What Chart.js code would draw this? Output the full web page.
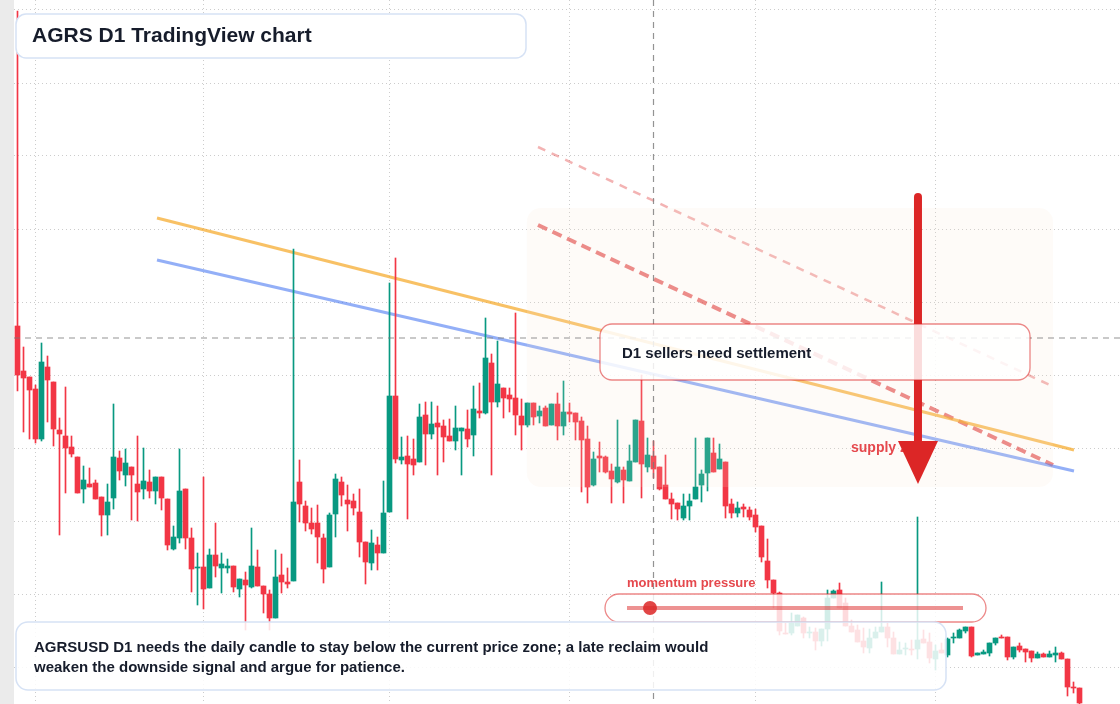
<!DOCTYPE html>
<html>
<head>
<meta charset="utf-8">
<title>AGRS D1 TradingView chart</title>
<script src="https://cdn.jsdelivr.net/npm/chart.js@4.4.1/dist/chart.umd.min.js"></script>
<style>
  html, body { margin: 0; padding: 0; background: #fff; }
  canvas { display: block; }
</style>
</head>
<body>
<canvas id="agrsChart" width="1120" height="704"></canvas>
<script>
// daily candles, day 0 = Jan 29
const open = [
  3.78, 3.33, 3.27, 3.15, 2.65, 3.37, 3.22, 2.74, 2.68, 2.57,
  2.47, 2.15, 2.20, 2.21, 2.07, 1.89, 2.06, 2.46, 2.29, 2.37,
  2.20, 2.15, 2.22, 2.13, 2.27, 2.05, 1.55, 1.66, 2.15, 1.66,
  1.36, 1.37, 1.16, 1.49, 1.36, 1.36, 1.38, 1.15, 1.24, 1.17,
  1.37, 1.18, 1.10, 0.86, 1.29, 1.22, 1.23, 2.22, 1.98, 1.81,
  1.81, 1.66, 1.37, 1.90, 2.22, 2.04, 2.03, 1.92, 1.62, 1.41,
  1.59, 1.51, 1.92, 3.08, 2.44, 2.48, 2.45, 2.42, 2.89, 2.70,
  2.81, 2.78, 2.68, 2.63, 2.73, 2.75, 2.69, 2.93, 2.91, 3.41,
  3.02, 3.16, 3.09, 3.06, 2.88, 2.79, 3.01, 2.88, 2.96, 2.79,
  3.00, 2.78, 2.92, 2.91, 2.83, 2.65, 2.19, 2.48, 2.47, 2.33,
  2.22, 2.34, 2.23, 2.42, 2.83, 2.37, 2.48, 2.37, 2.19, 2.05,
  2.01, 1.86, 1.98, 2.05, 2.19, 2.31, 2.51, 2.35, 2.42, 2.00,
  1.91, 1.97, 1.94, 1.89, 1.78, 1.43, 1.24, 1.11, 0.71, 0.71,
  0.78, 0.86, 0.71, 0.72, 0.63, 0.75, 1.06, 1.14, 1.01, 0.78,
  0.74, 0.63, 0.56, 0.66, 0.72, 0.77, 0.66, 0.50, 0.55, 0.55,
  0.55, 0.65, 0.62, 0.45, 0.54, 0.49, 0.66, 0.66, 0.73, 0.77,
  0.49, 0.50, 0.51, 0.61, 0.67, 0.67, 0.47, 0.58, 0.55, 0.53,
  0.46, 0.50, 0.47, 0.49, 0.51, 0.45, 0.17, 0.16
];
const high = [
  6.93, 3.57, 3.27, 3.19, 3.61, 3.48, 3.22, 2.86, 3.17, 2.68,
  2.47, 2.38, 2.36, 2.24, 2.07, 2.20, 3.00, 2.53, 2.55, 2.37,
  2.68, 2.56, 2.34, 2.27, 2.27, 2.05, 1.78, 2.55, 2.15, 1.76,
  1.51, 2.27, 1.55, 1.81, 1.51, 1.45, 1.38, 1.25, 1.32, 1.76,
  1.54, 1.18, 1.14, 1.54, 1.50, 1.36, 4.55, 2.44, 2.03, 1.96,
  1.99, 1.70, 1.91, 2.30, 2.27, 2.19, 2.10, 2.15, 1.62, 1.74,
  1.67, 2.23, 4.21, 4.46, 2.67, 2.68, 2.65, 3.00, 3.02, 3.02,
  2.98, 2.84, 2.85, 2.98, 2.76, 2.94, 3.18, 3.21, 3.86, 3.50,
  3.63, 3.16, 3.16, 3.91, 3.05, 3.01, 3.01, 2.98, 2.98, 3.00,
  3.11, 3.23, 3.01, 2.91, 2.87, 2.78, 2.52, 2.62, 2.48, 2.40,
  2.84, 2.37, 2.59, 2.84, 3.29, 2.66, 2.63, 2.37, 2.49, 2.11,
  2.01, 2.10, 2.10, 2.66, 2.34, 2.66, 2.66, 2.60, 2.42, 2.05,
  2.02, 2.00, 1.97, 1.95, 1.78, 1.65, 1.24, 1.12, 0.81, 0.91,
  0.89, 0.87, 0.77, 0.76, 0.75, 1.14, 1.14, 1.21, 1.06, 0.84,
  0.79, 0.76, 0.75, 0.77, 1.22, 0.81, 0.72, 0.62, 0.61, 0.64,
  1.87, 0.74, 0.71, 0.59, 0.61, 0.66, 0.71, 0.75, 0.77, 0.77,
  0.51, 0.54, 0.61, 0.66, 0.69, 0.67, 0.57, 0.61, 0.55, 0.53,
  0.52, 0.51, 0.53, 0.57, 0.52, 0.45, 0.22, 0.16
];
const low = [
  3.13, 2.72, 2.65, 2.61, 2.63, 2.82, 2.58, 1.69, 2.11, 2.47,
  2.11, 2.01, 2.17, 2.05, 1.68, 1.69, 1.95, 2.24, 2.18, 1.84,
  1.83, 2.05, 2.06, 2.00, 1.94, 1.54, 1.54, 1.61, 1.55, 1.12,
  0.99, 0.95, 1.16, 1.27, 1.11, 1.31, 1.12, 1.07, 0.74, 1.16,
  1.18, 0.91, 0.74, 0.86, 1.11, 1.16, 1.23, 1.82, 1.73, 1.70,
  1.41, 1.21, 1.37, 1.67, 1.98, 1.73, 1.89, 1.47, 1.20, 1.34,
  1.34, 1.51, 1.92, 2.41, 2.40, 1.85, 2.29, 2.42, 2.39, 2.65,
  2.29, 2.42, 2.63, 2.54, 2.29, 2.57, 2.48, 2.86, 2.90, 2.29,
  2.97, 2.86, 2.92, 2.69, 2.54, 2.77, 2.79, 2.81, 2.78, 2.79,
  2.64, 2.69, 2.82, 2.64, 2.12, 2.01, 2.18, 2.32, 2.31, 2.01,
  2.21, 2.01, 2.23, 2.42, 2.06, 2.32, 2.26, 2.14, 2.05, 1.85,
  1.84, 1.84, 1.84, 2.05, 2.02, 2.13, 2.32, 2.35, 1.86, 1.86,
  1.87, 1.87, 1.84, 1.72, 1.42, 1.16, 0.96, 0.69, 0.70, 0.69,
  0.78, 0.66, 0.66, 0.54, 0.58, 0.63, 1.06, 0.96, 0.78, 0.72,
  0.62, 0.51, 0.51, 0.66, 0.72, 0.57, 0.50, 0.50, 0.49, 0.49,
  0.45, 0.61, 0.41, 0.34, 0.51, 0.47, 0.61, 0.66, 0.71, 0.47,
  0.49, 0.50, 0.48, 0.59, 0.66, 0.44, 0.45, 0.52, 0.42, 0.42,
  0.46, 0.47, 0.47, 0.42, 0.45, 0.08, 0.11, 0.00
];
const close = [
  3.29, 3.26, 3.14, 2.65, 3.42, 3.24, 2.75, 2.70, 2.56, 2.50,
  2.11, 2.24, 2.17, 2.05, 1.89, 2.02, 2.47, 2.33, 2.41, 2.29,
  2.12, 2.23, 2.13, 2.27, 2.06, 1.59, 1.67, 2.13, 1.66, 1.35,
  1.37, 1.15, 1.49, 1.38, 1.40, 1.38, 1.17, 1.25, 1.19, 1.38,
  1.18, 1.10, 0.86, 1.27, 1.22, 1.20, 2.02, 2.00, 1.81, 1.75,
  1.67, 1.35, 1.89, 2.25, 2.09, 2.00, 1.96, 1.62, 1.42, 1.61,
  1.51, 1.91, 3.08, 2.45, 2.47, 2.40, 2.39, 2.87, 2.70, 2.80,
  2.77, 2.67, 2.63, 2.76, 2.76, 2.65, 2.95, 2.91, 3.46, 3.02,
  3.20, 3.06, 3.05, 2.89, 2.79, 3.01, 2.87, 2.93, 2.78, 3.00,
  2.78, 2.92, 2.90, 2.82, 2.64, 2.17, 2.45, 2.46, 2.32, 2.25,
  2.37, 2.24, 2.43, 2.84, 2.40, 2.49, 2.35, 2.15, 2.05, 2.00,
  1.95, 1.98, 2.03, 2.17, 2.30, 2.66, 2.32, 2.45, 1.98, 1.91,
  1.96, 1.95, 1.87, 1.77, 1.47, 1.24, 1.11, 0.73, 0.70, 0.81,
  0.89, 0.71, 0.72, 0.63, 0.75, 1.06, 1.13, 0.96, 0.78, 0.72,
  0.62, 0.57, 0.66, 0.72, 0.77, 0.66, 0.50, 0.54, 0.56, 0.54,
  0.64, 0.61, 0.46, 0.53, 0.51, 0.65, 0.67, 0.74, 0.77, 0.48,
  0.51, 0.52, 0.61, 0.66, 0.66, 0.47, 0.57, 0.54, 0.52, 0.46,
  0.50, 0.47, 0.50, 0.51, 0.45, 0.17, 0.16, 0.01
];

// month starts (day index) for the vertical grid, and horizontal price grid
const monthTicks = [3, 31, 62, 92, 123, 153];
const monthLabels = ['Feb', 'Mar', 'Apr', 'May', 'Jun', 'Jul'];
const priceGrid = [0.37, 1.10, 1.83, 2.56, 3.29, 4.02, 4.75, 5.48, 6.21, 6.94];

// drawings, as [day, price]
const resistanceLine = [[23.25, 4.86], [176.08, 2.54]];
const trendLine = [[23.25, 4.44], [176.08, 2.33]];
const sellerLine = [[86.75, 4.79], [172.58, 2.39]];
const upperSellerLine = [[86.75, 5.57], [172.42, 3.18]];
const supplyZone = [84.9, 172.58, 4.96, 2.17];   // from day, to day, top, bottom
const crosshair = [106, 3.66];                   // day, price
const arrowDrop = [150.08, 5.07, 2.63, 2.20];    // day, start, head base, tip

const UP = '#089981';
const DOWN = '#f23645';
const TEXT = '#161c2b';
const FONT = '"Liberation Sans", Arial, sans-serif';

const days = open.map((_, i) => i);
const candleColors = days.map(i => close[i] >= open[i] ? UP : DOWN);

function roundedBox(ctx, x, y, w, h, r, fill, stroke, lw) {
  ctx.beginPath();
  ctx.roundRect(x, y, w, h, r);
  if (fill) { ctx.fillStyle = fill; ctx.fill(); }
  if (stroke) { ctx.strokeStyle = stroke; ctx.lineWidth = lw || 1; ctx.stroke(); }
}

function label(ctx, text, x, y, font, color) {
  ctx.font = font;
  ctx.fillStyle = color;
  ctx.textAlign = 'left';
  ctx.textBaseline = 'middle';
  ctx.fillText(text, x, y);
}

const overlay = {
  id: 'overlay',
  beforeDraw(chart) {
    const { ctx, chartArea } = chart;
    ctx.save();
    ctx.fillStyle = '#ffffff';
    ctx.fillRect(0, 0, chart.width, chart.height);
    ctx.fillStyle = '#ebebeb';
    ctx.fillRect(0, 0, chartArea.left, chart.height);
    ctx.restore();
  },
  afterDatasetsDraw(chart) {
    const { ctx, chartArea: area, scales: { x, y } } = chart;
    ctx.save();

    // supply zone tint
    const zx0 = x.getPixelForValue(supplyZone[0]);
    const zx1 = x.getPixelForValue(supplyZone[1]);
    const zy0 = y.getPixelForValue(supplyZone[2]);
    const zy1 = y.getPixelForValue(supplyZone[3]);
    roundedBox(ctx, zx0, zy0, zx1 - zx0, zy1 - zy0, 14, 'rgba(245,225,210,0.15)');

    // crosshair
    const cx = x.getPixelForValue(crosshair[0]);
    const cy = y.getPixelForValue(crosshair[1]);
    ctx.setLineDash([6, 5]);
    ctx.strokeStyle = 'rgba(120,120,120,0.8)';
    ctx.lineWidth = 1.2;
    ctx.beginPath();
    ctx.moveTo(area.left, cy); ctx.lineTo(area.right, cy);
    ctx.moveTo(cx, area.top); ctx.lineTo(cx, area.bottom);
    ctx.stroke();
    ctx.setLineDash([]);

    label(ctx, 'supply zone', 851, 448, 'bold 14px ' + FONT, '#e5484d');

    // drop arrow
    const ax = x.getPixelForValue(arrowDrop[0]);
    const aTop = y.getPixelForValue(arrowDrop[1]);
    const aBase = y.getPixelForValue(arrowDrop[2]);
    const aTip = y.getPixelForValue(arrowDrop[3]);
    ctx.strokeStyle = '#dc2626';
    ctx.lineWidth = 8;
    ctx.lineCap = 'round';
    ctx.beginPath();
    ctx.moveTo(ax, aTop); ctx.lineTo(ax, aBase + 4);
    ctx.stroke();
    ctx.fillStyle = '#dc2626';
    ctx.beginPath();
    ctx.moveTo(ax - 20, aBase); ctx.lineTo(ax + 20, aBase); ctx.lineTo(ax, aTip);
    ctx.closePath();
    ctx.fill();

    // callout boxes
    roundedBox(ctx, 600, 324, 430, 56, 12, 'rgba(255,255,255,0.84)', 'rgba(220,38,38,0.55)', 1.3);
    label(ctx, 'D1 sellers need settlement', 622, 354, 'bold 15px ' + FONT, TEXT);

    label(ctx, 'momentum pressure', 627, 583, 'bold 13px ' + FONT, '#e5484d');
    roundedBox(ctx, 605, 594, 381, 28, 14, 'rgba(255,255,255,0.82)', 'rgba(220,38,38,0.55)', 1.3);
    ctx.strokeStyle = 'rgba(220,38,38,0.5)';
    ctx.lineWidth = 4;
    ctx.lineCap = 'butt';
    ctx.beginPath();
    ctx.moveTo(627, 608); ctx.lineTo(963, 608);
    ctx.stroke();
    ctx.fillStyle = 'rgba(220,38,38,0.85)';
    ctx.beginPath();
    ctx.arc(650, 608, 7, 0, Math.PI * 2);
    ctx.fill();

    roundedBox(ctx, 16, 622, 930, 68, 12, 'rgba(255,255,255,0.85)', '#d6e2f5', 1.5);
    label(ctx, 'AGRSUSD D1 needs the daily candle to stay below the current price zone; a late reclaim would', 34, 648, 'bold 15px ' + FONT, TEXT);
    label(ctx, 'weaken the downside signal and argue for patience.', 34, 668, 'bold 15px ' + FONT, TEXT);

    roundedBox(ctx, 16, 14, 510, 44, 10, '#ffffff', '#d6e2f5', 1.5);
    label(ctx, 'AGRS D1 TradingView chart', 32, 36, 'bold 21px ' + FONT, TEXT);

    ctx.restore();
  }
};

const drawing = (points, color, width, dash, order) => ({
  type: 'line',
  data: points.map(([d, p]) => ({ x: d, y: p })),
  borderColor: color,
  borderWidth: width,
  borderDash: dash,
  pointRadius: 0,
  fill: false,
  order
});

new Chart(document.getElementById('agrsChart'), {
  type: 'bar',
  data: {
    datasets: [
      {
        label: 'body',
        data: days.map(i => ({ x: i, y: [open[i], close[i]] })),
        backgroundColor: candleColors,
        barThickness: 5,
        minBarLength: 1,
        grouped: false,
        order: 1
      },
      {
        label: 'wick',
        data: days.map(i => ({ x: i, y: [low[i], high[i]] })),
        backgroundColor: candleColors,
        barThickness: 1,
        grouped: false,
        order: 2
      },
      drawing(resistanceLine, 'rgba(245,166,35,0.7)', 3, [], 3),
      drawing(trendLine, 'rgba(59,110,240,0.55)', 3, [], 4),
      drawing(sellerLine, 'rgba(220,38,38,0.6)', 4, [10, 6], 5),
      drawing(upperSellerLine, 'rgba(220,38,38,0.35)', 2.5, [8, 7], 6)
    ]
  },
  options: {
    responsive: false,
    devicePixelRatio: 1,
    animation: false,
    layout: { padding: { left: 14, right: 0, top: 0, bottom: 0 } },
    plugins: { legend: { display: false }, tooltip: { enabled: false } },
    scales: {
      x: {
        type: 'linear',
        min: -0.5833,
        max: 183.75,
        offset: false,
        afterBuildTicks: s => { s.ticks = monthTicks.map(v => ({ value: v, label: monthLabels[monthTicks.indexOf(v)] })); },
        ticks: { display: false },
        grid: { offset: false, drawTicks: false, color: 'rgba(170,170,170,0.6)', lineWidth: 1 },
        border: { display: false, dash: [1, 3] }
      },
      y: {
        type: 'linear',
        min: 0,
        max: 7.04,
        afterBuildTicks: s => { s.ticks = priceGrid.map(v => ({ value: v })); },
        ticks: { display: false },
        grid: { drawTicks: false, color: 'rgba(170,170,170,0.6)', lineWidth: 1 },
        border: { display: false, dash: [1, 3] }
      }
    }
  },
  plugins: [overlay]
});
</script>
</body>
</html>
